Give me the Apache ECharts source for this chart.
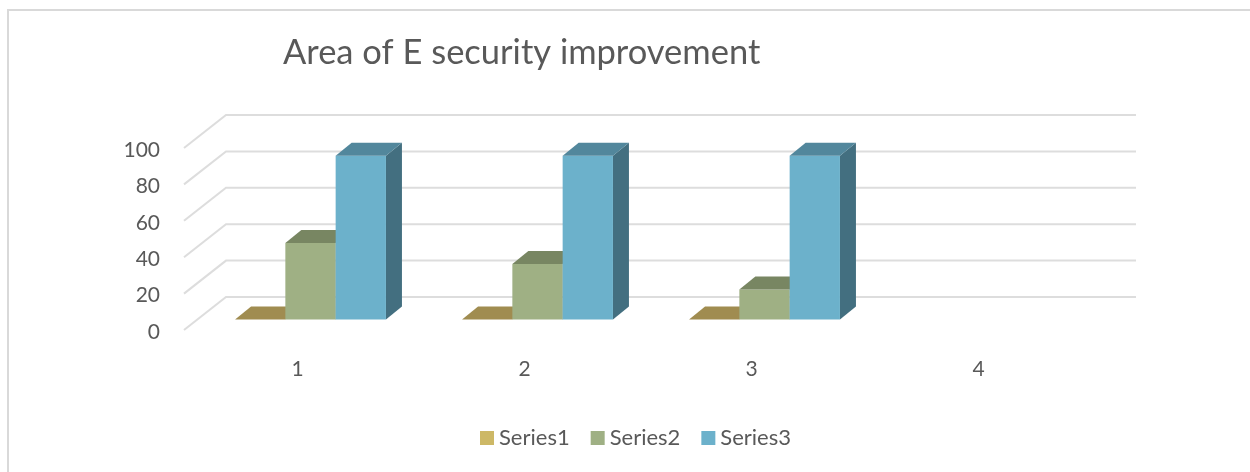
<!DOCTYPE html>
<html>
<head>
<meta charset="utf-8">
<style>html,body{margin:0;padding:0;background:#fff}#main{width:1250px;height:472px}</style>
<script src="https://cdn.jsdelivr.net/npm/echarts@6/dist/echarts.min.js"></script>
</head>
<body>
<div id="main"></div>
<script>
var categories = ['1', '2', '3', '4'];
var yTicks = [0, 20, 40, 60, 80, 100];
var series1 = [0, 0, 0];
var series2 = [42, 30.5, 16.5];
var series3 = [90, 90, 90];

// front, top and side colours of each bar
var frontColors = ['#cdb866', '#9fb084', '#6cb1cb'];
var topColors = ['#a08c50', '#788662', '#52879c'];
var sideColors = ['#a08c50', '#5f6f4d', '#436f80'];

var chart = echarts.init(document.getElementById('main'));

// wall depth, and where the bars stand inside that depth
var wallX = 42, wallY = 33;
var barX = 13, barY = 10.5, barDepthX = 16, barDepthY = 13;
var barW = 50.3;

function wallItem(params, api) {
    var p = api.coord([0, api.value(1)]);
    var x0 = params.coordSys.x;
    var x1 = x0 + params.coordSys.width;
    var style = {stroke: '#dddddd', lineWidth: 2, fill: null};
    return {
        type: 'group',
        children: [
            {type: 'polyline', shape: {points: [[x0, p[1]], [x0 + wallX, p[1] - wallY], [x1 + wallX + 2, p[1] - wallY]]}, style: style}
        ]
    };
}

function barItem(idx) {
    return function (params, api) {
        var top = api.coord([api.value(0), api.value(1)]);
        var base = api.coord([api.value(0), 0]);
        var x = top[0] + barX + (idx - 1.5) * barW;
        var y1 = top[1] - barY;
        var y0 = base[1] - barY;
        var kids = [];
        if (y0 - y1 > 0) {
            kids.push({type: 'polygon', shape: {points: [[x + barW, y1], [x + barW + barDepthX, y1 - barDepthY], [x + barW + barDepthX, y0 - barDepthY], [x + barW, y0]]}, style: {fill: sideColors[idx]}});
            kids.push({type: 'rect', shape: {x: x, y: y1, width: barW, height: y0 - y1}, style: {fill: frontColors[idx]}});
        }
        kids.push({type: 'polygon', shape: {points: [[x, y1], [x + barDepthX, y1 - barDepthY], [x + barW + barDepthX, y1 - barDepthY], [x + barW, y1]]}, style: {fill: topColors[idx]}});
        return {type: 'group', children: kids};
    };
}

function toData(values) {
    return values.map(function (v, i) { return [i, v]; });
}

function barSeries(name, values, idx) {
    return {
        name: name,
        type: 'custom',
        clip: false,
        itemStyle: {color: frontColors[idx]},
        renderItem: barItem(idx),
        data: toData(values),
        z: 3 + idx
    };
}

var option = {
    animation: false,
    backgroundColor: '#ffffff',
    textStyle: {fontFamily: 'Lato'},
    title: {
        text: 'Area of E security improvement',
        left: 278,
        top: 30,
        textStyle: {fontFamily: 'Lato', fontSize: 34.5, fontWeight: 'normal', color: '#595959'}
    },
    legend: {
        data: ['Series1', 'Series2', 'Series3'],
        left: 475,
        top: 422,
        icon: 'rect',
        itemWidth: 14,
        itemHeight: 14,
        itemGap: 21,
        textStyle: {fontFamily: 'Lato', fontSize: 22, color: '#595959'}
    },
    grid: {left: 184, top: 148, width: 908, height: 182},
    xAxis: {
        type: 'category',
        data: categories,
        axisLine: {show: false},
        axisTick: {show: false},
        axisLabel: {margin: 29, fontSize: 21, color: '#595959', fontFamily: 'Lato'}
    },
    yAxis: {
        type: 'value',
        min: 0,
        max: 100,
        interval: 20,
        axisLine: {show: false},
        axisTick: {show: false},
        splitLine: {show: false},
        axisLabel: {
            margin: 24,
            formatter: '{t|{value}}',
            rich: {t: {fontSize: 21, color: '#595959', fontFamily: 'Lato', padding: [4, 0, 0, 0]}}
        }
    },
    graphic: [
        {type: 'polyline', shape: {points: [[8, 472], [8, 10], [1250, 10]]}, style: {stroke: '#d9d9d9', lineWidth: 2, fill: null}, silent: true}
    ],
    series: [
        {
            name: 'wall',
            type: 'custom',
            clip: false,
            silent: true,
            renderItem: wallItem,
            data: yTicks.map(function (v) { return [0, v]; }),
            z: 1
        },
        barSeries('Series1', series1, 0),
        barSeries('Series2', series2, 1),
        barSeries('Series3', series3, 2)
    ]
};

chart.setOption(option);
</script>
</body>
</html>
